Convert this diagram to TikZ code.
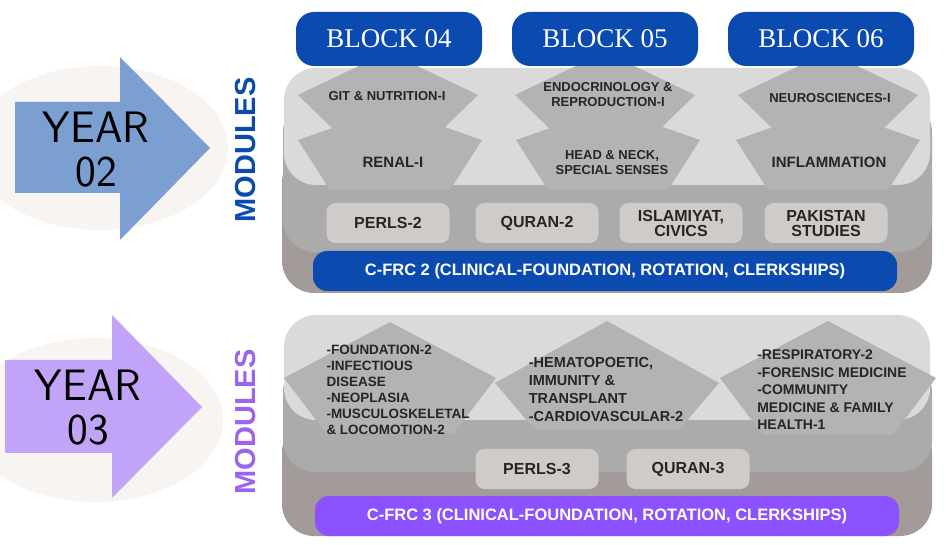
\documentclass[tikz,border=0pt]{standalone}
\usepackage{fontspec}
\setmainfont{Liberation Sans}
\usepackage{tikz}
\definecolor{bgell}{HTML}{F8F4F1}
\definecolor{arrA}{HTML}{7A9FD0}
\definecolor{arrB}{HTML}{C1A4F7}
\definecolor{blueM}{HTML}{0B4AAF}
\definecolor{purM}{HTML}{9A63F0}
\definecolor{purBar}{HTML}{8C52FF}
\definecolor{lightL}{HTML}{DADADA}
\definecolor{midL}{HTML}{ABABAB}
\definecolor{brownL}{HTML}{A39B99}
\definecolor{pentC}{HTML}{B3B3B3}
\definecolor{boxC}{HTML}{CFCBC8}
\newcommand\mypent[6]{\fill[pentC] (#1,#2) -- ({#1+#3},#4) -- ({#1+#6},#5) -- ({#1-#6},#5) -- ({#1-#3},#4) -- cycle;}
\begin{document}
\begin{tikzpicture}[x=1pt,y=-1pt,
  layer/.style={rounded corners=32pt},
  block/.style={fill=blueM,rounded corners=18pt,minimum width=186pt,minimum height=54pt,text=white,font=\fontspec{Liberation Serif}\fontsize{27}{27}\selectfont,inner sep=0pt},
  mtxt/.style={font=\bfseries\fontsize{13}{15}\selectfont,align=center,text=black!85},
  ltxt/.style={font=\bfseries\fontsize{13.5}{16}\selectfont,align=left,text=black!85},
  box/.style={fill=boxC,rounded corners=9pt,minimum width=123pt,minimum height=40pt,font=\bfseries\fontsize{16}{15}\selectfont,align=center,text=black!85,inner sep=0pt},
  bar/.style={rounded corners=14pt,minimum width=584pt,minimum height=40pt,text=white,font=\bfseries\fontsize{16.5}{17}\selectfont,inner sep=0pt},
  year/.style={font=\sffamily\fontsize{44}{44}\selectfont,align=center,text=black,inner sep=0pt},
  mod/.style={rotate=90,font=\bfseries\fontsize{29}{29}\selectfont}]
\useasboundingbox (0,0) rectangle (946,545);
% left side year 2
\fill[bgell] (100,148) ellipse (128 and 82);
\fill[arrA] (15,102) -- (120,102) -- (120,57) -- (210,148) -- (120,240) -- (120,193) -- (15,193) -- cycle;
\node[year] (y2) at (96,150) {YEAR\\02};
\node[mod,text=blueM] (m2) at (246,150) {MODULES};
% left side year 3
\fill[bgell] (95,420) ellipse (128 and 82);
\fill[arrB] (5,360) -- (112,360) -- (112,315) -- (202,407) -- (112,498) -- (112,453) -- (5,453) -- cycle;
\node[year] (y3) at (88,408) {YEAR\\03};
\node[mod,text=purM] (m3) at (246,422) {MODULES};
% year 2 panel
\fill[brownL,layer] (282,150) rectangle (932,293);
\fill[midL,layer] (283,100) rectangle (932,252);
\fill[lightL,layer] (284,68) rectangle (930,185);
\mypent{388}{52}{90}{95}{128}{56}
\mypent{605}{52}{90}{95}{128}{56}
\mypent{828}{52}{90}{95}{128}{56}
\mypent{390}{108}{92}{140}{190}{60}
\mypent{608}{108}{92}{140}{190}{60}
\mypent{828}{108}{92}{140}{190}{60}
\node[block] (b4) at (389,39) {BLOCK 04};
\node[block] (b5) at (605,39) {BLOCK 05};
\node[block] (b6) at (821,39) {BLOCK 06};
\node[mtxt] (git) at (387,96) {GIT \& NUTRITION-I};
\node[mtxt] (endo) at (608,95) {ENDOCRINOLOGY \&\\REPRODUCTION-I};
\node[mtxt] (neuro) at (830,98) {NEUROSCIENCES-I};
\node[mtxt,font=\bfseries\fontsize{15}{16}\selectfont] (renal) at (393,162) {RENAL-I};
\node[mtxt] (head) at (612,163) {HEAD \& NECK,\\SPECIAL SENSES};
\node[mtxt,font=\bfseries\fontsize{15}{16}\selectfont] (infl) at (829,162) {INFLAMMATION};
\node[box] (p2) at (388,223) {PERLS-2};
\node[box] (q2) at (537,223) {QURAN-2};
\node[box] (is) at (681,223) {ISLAMIYAT,\\CIVICS};
\node[box] (pk) at (826,223) {PAKISTAN\\STUDIES};
\node[bar,fill=blueM] (c2) at (605,271) {C-FRC 2 (CLINICAL-FOUNDATION, ROTATION, CLERKSHIPS)};
% year 3 panel
\fill[brownL,layer] (282,420) rectangle (932,536);
\fill[midL,layer] (283,360) rectangle (932,472);
\fill[lightL,layer] (284,315) rectangle (930,420);
\mypent{390}{322}{106}{378}{433}{64}
\mypent{607}{321}{112}{383}{430}{72}
\mypent{828}{321}{108}{378}{435}{65}
\node[ltxt] (l1) at (398,390) {-FOUNDATION-2\\-INFECTIOUS\\DISEASE\\-NEOPLASIA\\-MUSCULOSKELETAL\\\& LOCOMOTION-2};
\node[ltxt,font=\bfseries\fontsize{14.5}{18}\selectfont] (l2) at (606,390) {-HEMATOPOETIC,\\IMMUNITY \&\\TRANSPLANT\\-CARDIOVASCULAR-2};
\node[ltxt,font=\bfseries\fontsize{14}{17.5}\selectfont] (l3) at (832,390) {-RESPIRATORY-2\\-FORENSIC MEDICINE\\-COMMUNITY\\MEDICINE \& FAMILY\\HEALTH-1};
\node[box] (p3) at (537,469) {PERLS-3};
\node[box] (q3) at (688,469) {QURAN-3};
\node[bar,fill=purBar] (c3) at (607,516) {C-FRC 3 (CLINICAL-FOUNDATION, ROTATION, CLERKSHIPS)};
\end{tikzpicture}
\end{document}
